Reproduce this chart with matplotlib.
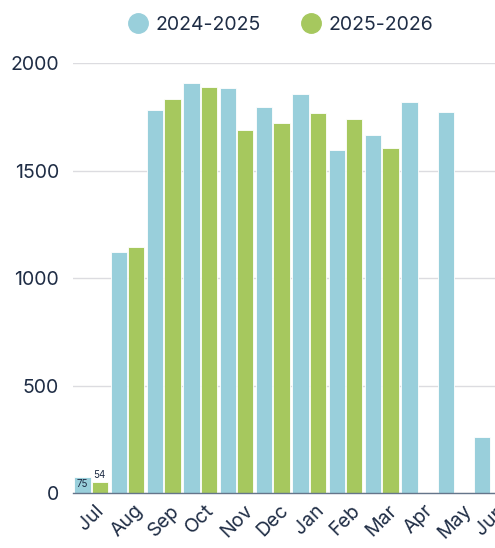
import numpy as np
import matplotlib.pyplot as plt
from matplotlib.lines import Line2D

# ---------------------------------------------------------------- data
months = ['Jul', 'Aug', 'Sep', 'Oct', 'Nov', 'Dec', 'Jan', 'Feb', 'Mar', 'Apr', 'May', 'Jun']
s2425 = [75, 1123, 1784, 1910, 1887, 1795, 1858, 1598, 1667, 1819, 1772, 264]
s2526 = [54, 1147, 1834, 1891, 1690, 1721, 1767, 1743, 1608, np.nan, np.nan, np.nan]
series_names = ['2024-2025', '2025-2026']

# ---------------------------------------------------------------- style
blue = '#99CFDB'
green = '#A6C85E'
txt = '#1F2D45'
grid_c = '#DCDCE0'
plt.rcParams['font.family'] = ['Inter', 'DejaVu Sans']

fig = plt.figure(figsize=(4.95, 5.48), dpi=100)
ax = fig.add_axes([73/495, 54.7/548, 436/495, 430/548])

x = np.arange(len(months))
w = 0.455
ax.bar(x - w/2 - 0.01, s2425, w, color=blue, edgecolor='white', linewidth=0.6, zorder=3)
ax.bar(x + w/2 + 0.01, s2526, w, color=green, edgecolor='white', linewidth=0.6, zorder=3)

# small value labels on the first month
ax.text(x[0] - w/2 - 0.01, s2425[0] - 8, str(s2425[0]), ha='center', va='top',
        fontsize=7, color=txt, zorder=4)
ax.text(x[0] + w/2 + 0.01, s2526[0] + 10, str(s2526[0]), ha='center', va='bottom',
        fontsize=7, color=txt, zorder=4)

ax.set_xlim(-0.5, len(months) - 0.5)
ax.set_ylim(0, 2000)
ax.set_yticks([0, 500, 1000, 1500, 2000])
ax.set_xticks(x)
ax.set_xticklabels(months, rotation=45, ha='center')
ax.tick_params(axis='both', length=0, colors=txt, labelsize=14)
ax.tick_params(axis='y', pad=10)
ax.tick_params(axis='x', pad=6)

ax.grid(axis='y', color=grid_c, linewidth=1, zorder=0)
for s in ['top', 'right', 'left']:
    ax.spines[s].set_visible(False)
ax.spines['bottom'].set_color('#65758A')
ax.spines['bottom'].set_linewidth(1)
ax.spines['bottom'].set_zorder(4)

handles = [Line2D([], [], marker='o', linestyle='', markersize=14, color=c) for c in (blue, green)]
fig.legend(handles, series_names, loc='center', bbox_to_anchor=(280/495, 1 - 25/548),
           ncol=2, frameon=False, fontsize=14, labelcolor=txt,
           handletextpad=0.3, columnspacing=2.0, handlelength=1.2)

fig.savefig('out.png', dpi=100)
